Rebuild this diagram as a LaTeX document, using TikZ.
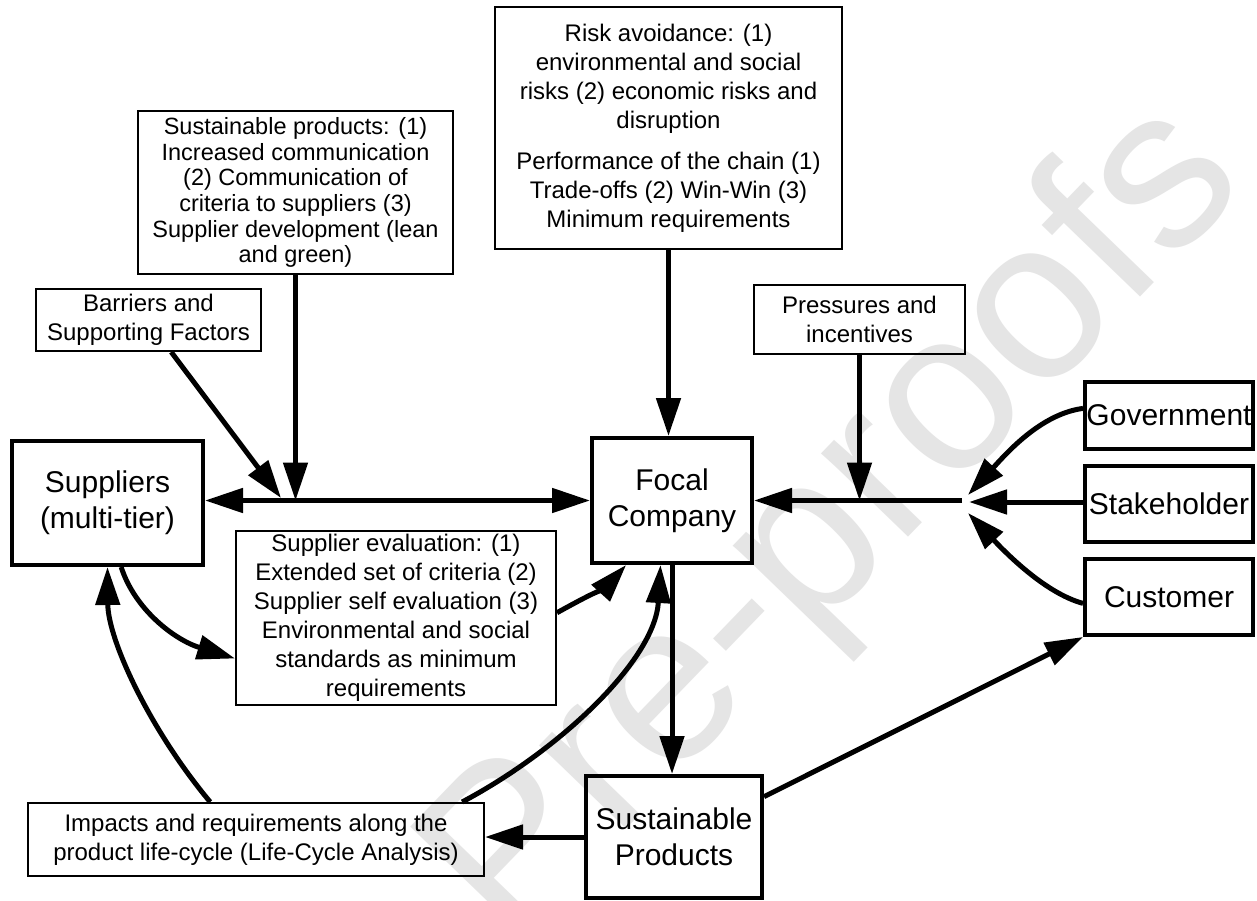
\documentclass[tikz,border=0pt]{standalone}
\usepackage{fontspec}
\setmainfont{Liberation Sans}
\usetikzlibrary{arrows.meta,calc}
\begin{document}
\begin{tikzpicture}[x=1pt,y=-1pt,
  sbox/.style={draw, line width=2pt, align=center, inner sep=0pt, font=\fontsize{24}{29}\selectfont},
  bbox/.style={draw, line width=4pt, align=center, inner sep=0pt, font=\fontsize{30}{36}\selectfont},
  conn/.style={line width=5pt, -{Triangle[length=38pt,width=24pt]}},
  dconn/.style={line width=5pt, {Triangle[length=38pt,width=24pt]}-{Triangle[length=38pt,width=24pt]}},
  plain/.style={line width=5pt}]
\useasboundingbox (0,0) rectangle (1257,901);
\fill[white] (0,0) rectangle (1257,901);
% watermark
\node[rotate=46, anchor=base west, inner sep=0pt, text=black!10, font=\fontsize{228}{228}\selectfont] (wm) at (510,950) {Pre-proofs};
% nodes
\node[sbox, minimum width=315pt, minimum height=163pt, font=\fontsize{23.5}{25.7}\selectfont] (crit) at (295.5,192.5)
  {Sustainable products: (1)\\Increased communication\\(2) Communication of\\criteria to suppliers (3)\\Supplier development (lean\\and green)};
\node[sbox, minimum width=347pt, minimum height=242pt] (risk) at (668.5,128)
  {Risk avoidance: (1)\\environmental and social\\risks (2) economic risks and\\disruption\\[12pt]Performance of the chain (1)\\Trade-offs (2) Win-Win (3)\\Minimum requirements};
\node[sbox, minimum width=225pt, minimum height=62pt] (bar) at (148.5,320) {Barriers and\\Supporting Factors};
\node[sbox, minimum width=211pt, minimum height=69pt] (press) at (859.5,319.5) {Pressures and\\incentives};
\node[bbox, minimum width=191pt, minimum height=124pt] (sup) at (107.5,503) {Suppliers\\(multi-tier)};
\node[bbox, minimum width=160pt, minimum height=125pt] (focal) at (672,500.5) {Focal\\Company};
\node[sbox, minimum width=320pt, minimum height=174pt] (eval) at (396,618)
  {Supplier evaluation: (1)\\Extended set of criteria (2)\\Supplier self evaluation (3)\\Environmental and social\\standards as minimum\\requirements};
\node[bbox, minimum width=168pt, minimum height=67pt] (gov) at (1169,415.5) {Government};
\node[bbox, minimum width=168pt, minimum height=76pt] (stake) at (1169,504) {Stakeholder};
\node[bbox, minimum width=168pt, minimum height=76pt] (cust) at (1169,597) {Customer};
\node[sbox, minimum width=456pt, minimum height=73pt] (imp) at (256,839.5)
  {Impacts and requirements along the\\product life-cycle (Life-Cycle Analysis)};
\node[bbox, minimum width=176pt, minimum height=122pt] (sp) at (674,837) {Sustainable\\Products};
% helper coordinates
\coordinate (jr) at (962,500.5);
\coordinate (jt) at (969,502);
\coordinate (jl) at (281,498);
\coordinate (barS) at ($(bar.south west)!0.6!(bar.south east)$);
\coordinate (govW) at ($(gov.north west)!0.4!(gov.south west)$);
\coordinate (custW) at ($(cust.north west)!0.58!(cust.south west)$);
\coordinate (govT) at (968,495);
\coordinate (custT) at (968,513);
\coordinate (supS) at ($(sup.south west)!0.57!(sup.south east)$);
\coordinate (supT) at ($(sup.south west)!0.5!(sup.south east)$);
\coordinate (evalW) at ($(eval.north west)!0.73!(eval.south west)$);
\coordinate (evalE) at ($(eval.north east)!0.47!(eval.south east)$);
\coordinate (impL) at ($(imp.north west)!0.40!(imp.north east)$);
\coordinate (impR) at ($(imp.north west)!0.95!(imp.north east)$);
\coordinate (focA) at ($(focal.south west)!0.22!(focal.south east)$);
\coordinate (focB) at ($(focal.south west)!0.43!(focal.south east)$);
\coordinate (spE) at ($(sp.north east)!0.18!(sp.south east)$);
% connectors
\draw[conn] (risk.south) -- (risk.south |- focal.north);
\draw[conn] (crit.south) -- (crit.south |- focal.west);
\draw[conn] (barS) -- (jl);
\draw[dconn] (focal.west -| sup.east) -- (focal.west);
\draw[conn] (jr) -- (focal.east);
\draw[conn] (press.south) -- (press.south |- focal.west);
\draw[conn] (stake.west |- jt) -- (jt);
\draw[conn] (govW) .. controls (1040,414) and (1005,455) .. (govT);
\draw[conn] (custW) .. controls (1045,593) and (1006,553) .. (custT);
\draw[conn] (focal.south) -- (focal.south |- sp.north);
\draw[conn] (sp.west) -- (sp.west -| imp.east);
\draw[conn] (spE) -- (cust.south west);
\draw[conn] (supS) .. controls (135,610) and (175,640) .. (evalW);
\draw[conn] (impL) .. controls (150,730) and (108,640) .. (supT);
\draw[conn] (impR) .. controls (560,750) and (655,660) .. (focB);
\draw[conn] (evalE) .. controls (580,600) and (608,585) .. (focA);
\end{tikzpicture}
\end{document}
